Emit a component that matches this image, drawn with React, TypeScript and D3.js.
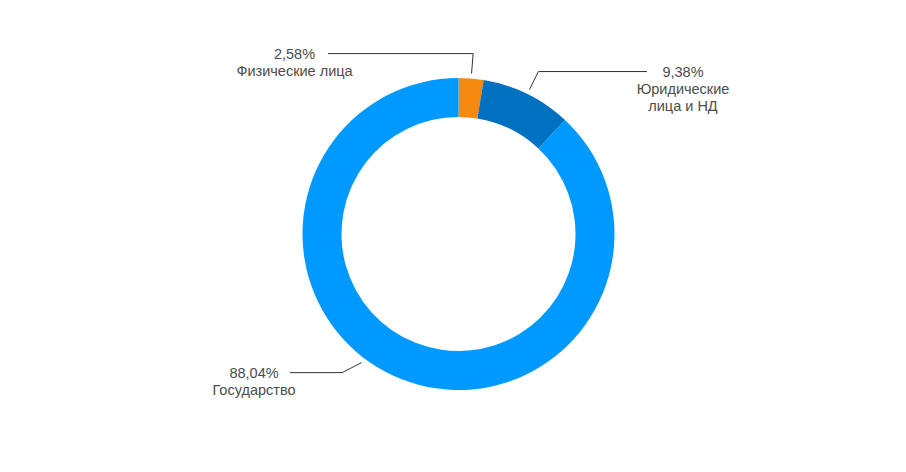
import { useEffect, useRef } from 'react';
import * as d3 from 'd3';

// Shares of the total (percent), clockwise from 12 o'clock
const categories = ['Физические лица', 'Юридические лица и НД', 'Государство'];
const values = [2.58, 9.38, 88.04];
const valueLabels = ['2,58%', '9,38%', '88,04%'];
const labelLines = [['Физические лица'], ['Юридические', 'лица и НД'], ['Государство']];
const colors = ['#f68a10', '#0071c1', '#0099ff'];

// Label layout: connector anchor override (degrees), horizontal end x, text centre x
const labelAngle: (number | null)[] = [null, null, 217];
const elbowAngle: (number | null)[] = [null, null, 220];
const lineEndX = [328, 647, 290];
const textX = [294.5, 683, 254];

const WIDTH = 906;
const HEIGHT = 472;

export default function App() {
  const svgRef = useRef<SVGSVGElement>(null);

  useEffect(() => {
    if (!svgRef.current) return;
    const svg = d3.select(svgRef.current);
    svg.selectAll('*').remove();

    const cx = 458.5;
    const cy = 234;
    const outerR = 156;
    const innerR = 117;

    const data = categories.map((c, i) => ({ name: c, value: values[i], idx: i }));
    const pie = d3
      .pie<{ name: string; value: number; idx: number }>()
      .value((d) => d.value)
      .sort(null);
    const arcs = pie(data);

    const arc = d3
      .arc<d3.PieArcDatum<{ name: string; value: number; idx: number }>>()
      .innerRadius(innerR)
      .outerRadius(outerR);

    const g = svg.append('g').attr('transform', `translate(${cx},${cy})`);

    g.selectAll('path')
      .data(arcs)
      .enter()
      .append('path')
      .attr('d', arc)
      .attr('fill', (d) => colors[d.data.idx]);

    // Connectors and labels
    const polar = (deg: number, r: number) => {
      const a = (deg * Math.PI) / 180;
      return [r * Math.sin(a), -r * Math.cos(a)];
    };

    arcs.forEach((d) => {
      const i = d.data.idx;
      const mid = ((d.startAngle + d.endAngle) / 2) * (180 / Math.PI);
      const ang = labelAngle[i] ?? mid;
      const [x0, y0] = polar(ang, outerR + 5);
      const [x1, y1] = polar(elbowAngle[i] ?? ang, outerR + 25);
      const xe = lineEndX[i] - cx;

      g.append('path')
        .attr('d', `M${x0},${y0}L${x1},${y1}L${xe},${y1}`)
        .attr('fill', 'none')
        .attr('stroke', '#333')
        .attr('stroke-width', 1);

      const t = svg
        .append('text')
        .attr('x', textX[i])
        .attr('y', cy + y1)
        .attr('text-anchor', 'middle')
        .attr('dominant-baseline', 'central')
        .attr('font-family', 'Arial, "Liberation Sans", sans-serif')
        .attr('font-size', '14.5px')
        .attr('fill', '#4d4d4d');
      const lines = [valueLabels[i], ...labelLines[i]];
      lines.forEach((l, k) => {
        t.append('tspan')
          .attr('x', textX[i])
          .attr('dy', k === 0 ? 0 : 17)
          .text(l);
      });
    });
  }, []);

  return (
    <div style={{ position: 'absolute', left: 0, top: 0, background: '#fff' }}>
      <svg ref={svgRef} width={WIDTH} height={HEIGHT} style={{ display: 'block' }} />
    </div>
  );
}
